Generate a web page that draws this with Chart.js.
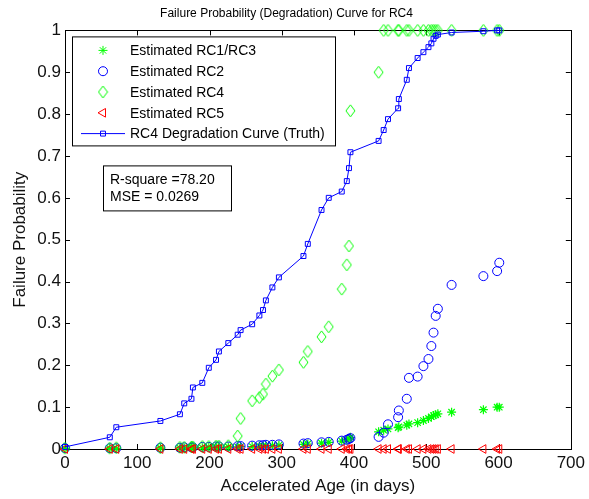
<!DOCTYPE html>
<html>
<head>
<meta charset="utf-8">
<title>Failure Probability (Degradation) Curve for RC4</title>
<script src="https://cdn.jsdelivr.net/npm/chart.js@4.4.1/dist/chart.umd.min.js"></script>
<style>
  html, body { margin: 0; padding: 0; background: #fff; }
  #wrap { width: 589px; height: 499px; }
</style>
</head>
<body>
<div id="wrap"><canvas id="chart" width="589" height="499"></canvas></div>
<script>
// accelerated age of each unit (days)
const ageDays = [0, 62, 71, 132, 159, 165, 175, 177, 190, 199,
  209, 213, 226, 239, 243, 259, 269, 274, 278, 287,
  296, 330, 336, 355, 365, 383, 390, 393, 395, 434,
  441, 447, 461, 462, 473, 476, 488, 496, 503, 507,
  510, 513, 516, 535, 579, 598, 601];

// RC4 degradation curve (truth)
const truthRC4 = [0.005, 0.028, 0.052, 0.067, 0.083, 0.109, 0.120, 0.147, 0.158, 0.194,
  0.213, 0.233, 0.253, 0.273, 0.284, 0.298, 0.319, 0.332, 0.355, 0.386,
  0.410, 0.461, 0.490, 0.571, 0.600, 0.615, 0.640, 0.671, 0.709, 0.736,
  0.762, 0.788, 0.814, 0.836, 0.882, 0.910, 0.934, 0.948, 0.960, 0.969,
  0.980, 0.987, 0.990, 0.995, 0.998, 1.000, 1.000];

// estimated failure probabilities
const estRC13 = [0.001, 0.001, 0.001, 0.002, 0.002, 0.002, 0.003, 0.003, 0.003, 0.004,
  0.004, 0.004, 0.005, 0.005, 0.006, 0.006, 0.007, 0.007, 0.008, 0.008,
  0.009, 0.011, 0.012, 0.014, 0.016, 0.019, 0.022, 0.025, 0.028, 0.041,
  0.045, 0.048, 0.051, 0.053, 0.057, 0.060, 0.063, 0.068, 0.073, 0.077,
  0.080, 0.082, 0.084, 0.088, 0.094, 0.100, 0.100];

const estRC2 = [0.002, 0.002, 0.002, 0.003, 0.003, 0.004, 0.004, 0.004, 0.005, 0.005,
  0.006, 0.006, 0.006, 0.007, 0.007, 0.008, 0.009, 0.009, 0.010, 0.010,
  0.011, 0.013, 0.014, 0.016, 0.017, 0.020, 0.022, 0.024, 0.026, 0.029,
  0.039, 0.059, 0.076, 0.092, 0.120, 0.170, 0.173, 0.198, 0.215, 0.246,
  0.278, 0.318, 0.335, 0.392, 0.413, 0.425, 0.445];

const estRC4 = [0.002, 0.002, 0.003, 0.003, 0.004, 0.004, 0.005, 0.005, 0.006, 0.006,
  0.007, 0.007, 0.008, 0.031, 0.073, 0.115, 0.123, 0.131, 0.155, 0.174,
  0.189, 0.207, 0.233, 0.268, 0.292, 0.382, 0.440, 0.485, 0.808, 0.900,
  1.000, 1.000, 1.000, 1.000, 1.000, 1.000, 1.000, 1.000, 1.000, 1.000,
  1.000, 1.000, 1.000, 1.000, 1.000, 1.000, 1.000];

const estRC5 = [0, 0, 0, 0, 0, 0, 0, 0, 0, 0,
  0, 0, 0, 0, 0, 0, 0, 0, 0, 0,
  0, 0, 0, 0, 0, 0, 0, 0, 0, 0,
  0, 0, 0, 0, 0, 0, 0, 0, 0, 0,
  0, 0, 0, 0, 0, 0, 0];

const fitStats = ['R-square =78.20', 'MSE = 0.0269'];

const GREEN = '#00ff00';
const BLUE = '#0000ff';
const RED = '#ff0000';
const FONT = "'Liberation Sans', Arial, sans-serif";

function toPoints(ys) {
  return ageDays.map((x, i) => ({ x: x, y: ys[i] }));
}

// tall hollow diamond marker
const diamond = document.createElement('canvas');
diamond.width = 11;
diamond.height = 14;
(function () {
  const c = diamond.getContext('2d');
  c.strokeStyle = GREEN;
  c.lineWidth = 1;
  c.beginPath();
  c.moveTo(5.5, 1);
  c.lineTo(10, 7);
  c.lineTo(5.5, 13);
  c.lineTo(1, 7);
  c.closePath();
  c.stroke();
})();

const datasets = [
  { label: 'Estimated RC1/RC3', data: toPoints(estRC13), pointStyle: 'star', pointRadius: 4.5,
    borderColor: GREEN, backgroundColor: 'transparent', pointBorderWidth: 1.2, order: 5 },
  { label: 'Estimated RC2', data: toPoints(estRC2), pointStyle: 'circle', pointRadius: 4.5,
    borderColor: BLUE, backgroundColor: 'transparent', pointBorderWidth: 1, order: 4 },
  { label: 'Estimated RC4', data: toPoints(estRC4), pointStyle: diamond, pointRadius: 6,
    borderColor: GREEN, backgroundColor: 'transparent', pointBorderWidth: 1, order: 3 },
  { label: 'Estimated RC5', data: toPoints(estRC5), pointStyle: 'triangle', pointRotation: -90, pointRadius: 5,
    borderColor: RED, backgroundColor: 'transparent', pointBorderWidth: 1, order: 2 },
  { label: 'RC4 Degradation Curve (Truth)', data: toPoints(truthRC4), showLine: true, pointStyle: 'rect', pointRadius: 3.5,
    borderColor: BLUE, backgroundColor: 'transparent', borderWidth: 1, pointBorderWidth: 1, order: 1 }
];

// box, inward ticks, legend and stats box in MATLAB style
const matlabAxes = {
  id: 'matlabAxes',
  beforeDatasetsDraw(chart) {
    const { ctx, chartArea: a, scales } = chart;
    ctx.save();
    ctx.strokeStyle = '#000';
    ctx.lineWidth = 1;
    ctx.beginPath();
    scales.x.ticks.forEach(t => {
      const px = Math.round(scales.x.getPixelForValue(t.value)) + 0.5;
      ctx.moveTo(px, a.bottom); ctx.lineTo(px, a.bottom - 5);
      ctx.moveTo(px, a.top); ctx.lineTo(px, a.top + 5);
    });
    scales.y.ticks.forEach(t => {
      const py = Math.round(scales.y.getPixelForValue(t.value)) + 0.5;
      ctx.moveTo(a.left, py); ctx.lineTo(a.left + 5, py);
      ctx.moveTo(a.right, py); ctx.lineTo(a.right - 5, py);
    });
    ctx.stroke();
    ctx.strokeRect(Math.round(a.left) + 0.5, Math.round(a.top) + 0.5,
      Math.round(a.right - a.left), Math.round(a.bottom - a.top));
    ctx.restore();
  },
  afterDatasetsDraw(chart) {
    const { ctx, chartArea: a } = chart;
    const draw = Chart.helpers.drawPoint;
    ctx.save();

    // legend
    const lx = a.left + 7, ly = a.top + 6, lw = 263, lh = 109;
    ctx.fillStyle = '#fff';
    ctx.fillRect(lx, ly, lw, lh);
    ctx.strokeStyle = '#000';
    ctx.lineWidth = 1;
    ctx.strokeRect(lx + 0.5, ly + 0.5, lw, lh);
    ctx.font = '14px ' + FONT;
    ctx.textBaseline = 'middle';
    ctx.textAlign = 'left';
    chart.data.datasets.forEach((ds, i) => {
      const y = ly + 14 + i * 20.8;
      const mx = lx + 31;
      ctx.strokeStyle = ds.borderColor;
      ctx.fillStyle = 'rgba(0,0,0,0)';
      ctx.lineWidth = 1;
      if (ds.showLine) {
        ctx.beginPath();
        ctx.moveTo(lx + 9, y);
        ctx.lineTo(lx + 53, y);
        ctx.stroke();
      }
      draw(ctx, { pointStyle: ds.pointStyle, rotation: ds.pointRotation || 0,
        radius: ds.pointRadius, borderWidth: ds.pointBorderWidth }, mx, y);
      ctx.fillStyle = '#000';
      ctx.fillText(ds.label, lx + 58, y + 1);
    });

    // goodness-of-fit box
    const bx = a.left + 38, by = a.top + 135, bw = 128, bh = 45;
    ctx.fillStyle = '#fff';
    ctx.fillRect(bx, by, bw, bh);
    ctx.strokeStyle = '#000';
    ctx.strokeRect(bx + 0.5, by + 0.5, bw, bh);
    ctx.fillStyle = '#000';
    fitStats.forEach((s, i) => ctx.fillText(s, bx + 7, by + 15 + i * 17));
    ctx.restore();
  }
};

Chart.defaults.font.family = FONT;
Chart.defaults.color = '#111';

new Chart(document.getElementById('chart'), {
  type: 'scatter',
  data: { datasets: datasets },
  options: {
    responsive: false,
    animation: false,
    clip: false,
    layout: { padding: { right: 16, left: 0, top: 0, bottom: 0 } },
    plugins: {
      legend: { display: false },
      tooltip: { enabled: false },
      title: {
        display: true,
        text: 'Failure Probability (Degradation) Curve for RC4',
        color: '#000',
        font: { size: 12, weight: 'normal' },
        padding: { top: 6, bottom: 10 }
      }
    },
    scales: {
      x: {
        min: 0, max: 700,
        grid: { display: false, drawTicks: false },
        border: { display: false },
        ticks: { stepSize: 100, padding: 4, font: { size: 17 }, maxRotation: 0 },
        title: { display: true, text: 'Accelerated Age (in days)', font: { size: 17 }, padding: { top: 2, bottom: 2 } },
        afterFit(scale) { scale.height = 50; }
      },
      y: {
        min: 0, max: 1,
        grid: { display: false, drawTicks: false },
        border: { display: false },
        ticks: {
          stepSize: 0.1, padding: 4, font: { size: 17 },
          callback: v => String(Math.round(v * 10) / 10)
        },
        title: { display: true, text: 'Failure Probability', font: { size: 17 }, padding: { top: 10, bottom: 10 } },
        afterFit(scale) { scale.width = 65; }
      }
    }
  },
  plugins: [matlabAxes]
});
</script>
</body>
</html>
